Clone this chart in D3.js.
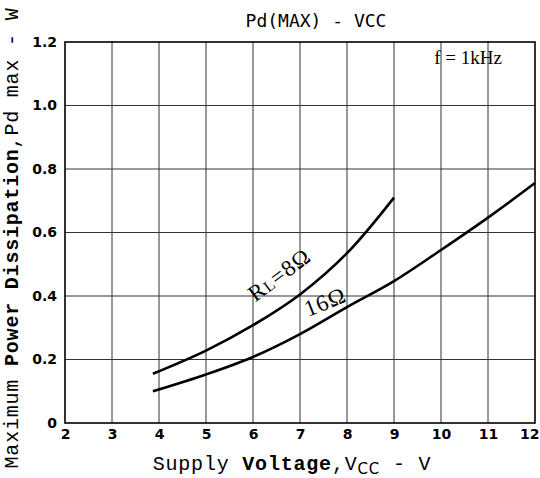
<!DOCTYPE html>
<html>
<head>
<meta charset="utf-8">
<script src="https://cdn.jsdelivr.net/npm/d3@7"></script>
<style>
  body { margin: 0; background: #fff; }
  svg { display: block; }
</style>
</head>
<body>
<svg width="540" height="478"></svg>
<script>
// data
const xTicks = [2, 3, 4, 5, 6, 7, 8, 9, 10, 11, 12]
const yTicks = [0, 0.2, 0.4, 0.6, 0.8, 1.0, 1.2]
const yTickLabels = ['0', '0.2', '0.4', '0.6', '0.8', '1.0', '1.2']

const vcc8 = [3.87, 5, 6, 7, 8, 9]
const pd8 = [0.155, 0.228, 0.308, 0.405, 0.535, 0.71]
const vcc16 = [3.87, 5, 6, 7, 8, 9, 10, 11, 12]
const pd16 = [0.10, 0.153, 0.208, 0.28, 0.365, 0.447, 0.545, 0.647, 0.756]

const svg = d3.select('svg')
const margin = { left: 65, right: 5, top: 42, bottom: 55 }
const W = 540, H = 478

const x = d3.scaleLinear().domain([2, 12]).range([margin.left, W - margin.right])
const y = d3.scaleLinear().domain([0, 1.2]).range([H - margin.bottom, margin.top])

// grid
const grid = svg.append('g').attr('stroke', '#333').attr('stroke-width', 1)
grid.selectAll('.vx')
    .data(xTicks.slice(1, -1))
    .join('line')
    .attr('x1', d => x(d)).attr('x2', d => x(d))
    .attr('y1', y(0)).attr('y2', y(1.2))
grid.selectAll('.hy')
    .data(yTicks.slice(1, -1))
    .join('line')
    .attr('x1', x(2)).attr('x2', x(12))
    .attr('y1', d => y(d)).attr('y2', d => y(d))

// frame
svg.append('rect')
    .attr('x', x(2)).attr('y', y(1.2))
    .attr('width', x(12) - x(2)).attr('height', y(0) - y(1.2))
    .attr('fill', 'none').attr('stroke', '#000').attr('stroke-width', 1.6)

// axes (labels only)
const xAxis = svg.append('g')
    .attr('transform', `translate(0,${y(0)})`)
    .call(d3.axisBottom(x).tickValues(xTicks).tickSize(0).tickPadding(6).tickFormat(d3.format('d')))
const yAxis = svg.append('g')
    .attr('transform', `translate(${x(2)},0)`)
    .call(d3.axisLeft(y).tickValues(yTicks).tickSize(0).tickPadding(8).tickFormat((d, i) => yTickLabels[i]))
;[xAxis, yAxis].forEach(a => {
    a.select('.domain').remove()
    a.selectAll('text')
        .attr('font-family', 'DejaVu Sans')
        .attr('font-weight', 'bold')
        .attr('font-size', 14)
        .attr('fill', '#000')
})
// keep the last x label inside the picture
xAxis.selectAll('.tick').filter(d => d === 12).select('text')
    .attr('text-anchor', 'end').attr('dx', 4)

// curves
const line = d3.line().x(d => x(d[0])).y(d => y(d[1])).curve(d3.curveCatmullRom)
const series = [d3.zip(vcc8, pd8), d3.zip(vcc16, pd16)]
svg.selectAll('.curve')
    .data(series)
    .join('path')
    .attr('d', line)
    .attr('fill', 'none')
    .attr('stroke', '#000')
    .attr('stroke-width', 2.6)

// curve labels
const lab8 = svg.append('text')
    .attr('transform', 'translate(284,281) rotate(-37)')
    .attr('text-anchor', 'middle')
    .attr('font-family', 'Liberation Serif')
    .attr('font-size', 23)
    .attr('letter-spacing', 1)
lab8.append('tspan').text('R')
lab8.append('tspan').attr('font-size', 16).text('L')
lab8.append('tspan').text('=8Ω')

svg.append('text')
    .attr('transform', 'translate(328,309) rotate(-22)')
    .attr('text-anchor', 'middle')
    .attr('font-family', 'Liberation Serif')
    .attr('font-size', 23)
    .attr('letter-spacing', 1)
    .text('16Ω')

svg.append('text')
    .attr('x', 468).attr('y', 64)
    .attr('text-anchor', 'middle')
    .attr('font-family', 'Liberation Serif')
    .attr('font-size', 19)
    .text('f = 1kHz')

// title
svg.append('text')
    .attr('x', 316).attr('y', 27)
    .attr('text-anchor', 'middle')
    .attr('font-family', 'DejaVu Sans Mono')
    .attr('font-size', 18)
    .text('Pd(MAX) - VCC')

// x axis title
const xt = svg.append('text')
    .attr('x', 292).attr('y', 470)
    .attr('text-anchor', 'middle')
    .attr('font-family', 'Liberation Mono')
    .attr('font-size', 20)
    .attr('letter-spacing', 0.8)
xt.append('tspan').text('Supply ')
xt.append('tspan').attr('font-weight', 'bold').text('Voltage')
xt.append('tspan').text(',V')
xt.append('tspan').attr('font-family', 'DejaVu Sans').attr('font-size', 15).attr('dy', 4).text('CC')
xt.append('tspan').attr('dy', -4).text(' - V')

// y axis title
const yt = svg.append('text')
    .attr('transform', 'translate(18,238) rotate(-90)')
    .attr('text-anchor', 'middle')
    .attr('font-family', 'Liberation Mono')
    .attr('font-size', 20)
    .attr('letter-spacing', 0.8)
yt.append('tspan').text('Maximum ')
yt.append('tspan').attr('font-weight', 'bold').text('Power Dissipation')
yt.append('tspan').text(',Pd max - W')
</script>
</body>
</html>
